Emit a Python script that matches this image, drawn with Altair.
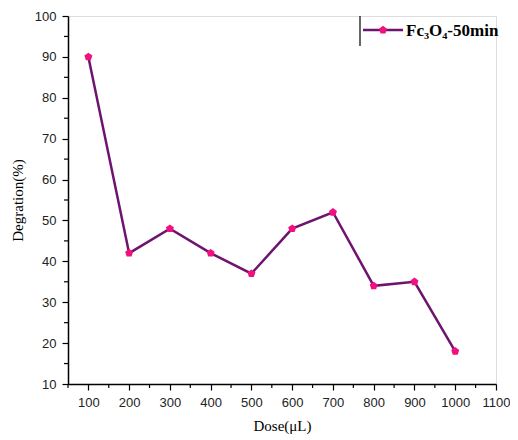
import altair as alt
import pandas as pd

dose = [100, 200, 300, 400, 500, 600, 700, 800, 900, 1000]
degradation = [90, 42, 48, 42, 37, 48, 52, 34, 35, 18]
x_ticks = [100, 200, 300, 400, 500, 600, 700, 800, 900, 1000, 1100]
x_minor = [50, 150, 250, 350, 450, 550, 650, 750, 850, 950, 1050]
y_ticks = [10, 20, 30, 40, 50, 60, 70, 80, 90, 100]
y_minor = [15, 25, 35, 45, 55, 65, 75, 85, 95]
series_name = "Fc₃O₄-50min"

df = pd.DataFrame({"dose": dose, "deg": degradation})

LINE = "#6E1470"
MARK = "#F2107E"
PENT = "M0,-1 L0.951,-0.309 L0.588,0.809 L-0.588,0.809 L-0.951,-0.309 Z"
W = 428
H = 368

xs = alt.Scale(domain=[50, 1100], nice=False, zero=False)
ys = alt.Scale(domain=[10, 100], nice=False, zero=False)

x_main = alt.X("dose:Q", scale=xs, axis=alt.Axis(
    values=x_ticks, title="Dose(μL)", orient="bottom", tickSize=6, format="d",
    labelOverlap=False, labelFlush=False, labelPadding=6,
    titleFont="Liberation Serif", titleFontSize=15, titleFontWeight="normal",
    titlePadding=9, labelFont="Liberation Sans", labelFontSize=13, labelColor="#222",
    domainColor="black", tickColor="black", domainWidth=1.5, tickWidth=1.2, grid=False))
y_main = alt.Y("deg:Q", scale=ys, axis=alt.Axis(
    values=y_ticks, title="Degration(%)", orient="left", tickSize=6, format="d",
    labelOverlap=False, labelFlush=False, labelPadding=6,
    titleFont="Liberation Serif", titleFontSize=15, titleFontWeight="normal",
    titlePadding=9, labelFont="Liberation Sans", labelFontSize=13, labelColor="#222",
    domainColor="black", tickColor="black", domainWidth=1.5, tickWidth=1.2, grid=False))

line = alt.Chart(df).mark_line(color=LINE, strokeWidth=2.5).encode(x=x_main, y=y_main)
pts = alt.Chart(df).mark_point(shape=PENT, filled=True, color=MARK, size=70, opacity=1).encode(
    x=alt.X("dose:Q", scale=xs), y=alt.Y("deg:Q", scale=ys))

# minor ticks, placed through the shared scales
xm = alt.Chart(pd.DataFrame({"dose": x_minor})).mark_rule(color="black", strokeWidth=1.2).encode(
    x=alt.X("dose:Q", scale=xs), y=alt.value(H), y2=alt.value(H + 4))
ym = alt.Chart(pd.DataFrame({"deg": y_minor})).mark_rule(color="black", strokeWidth=1.2).encode(
    y=alt.Y("deg:Q", scale=ys), x=alt.value(0), x2=alt.value(-4))

# legend
leg_df = pd.DataFrame({"name": [series_name]})
leg_border = alt.Chart(leg_df).mark_rule(color="black", strokeWidth=1.2).encode(
    x=alt.value(292), y=alt.value(0), y2=alt.value(30))
leg_line = alt.Chart(leg_df).mark_rule(color=LINE, strokeWidth=2.5).encode(
    x=alt.value(295), x2=alt.value(335), y=alt.value(14))
leg_pt = alt.Chart(leg_df).mark_point(shape=PENT, filled=True, color=MARK, size=70, opacity=1).encode(
    x=alt.value(315), y=alt.value(14))
leg_text = alt.Chart(leg_df).mark_text(
    align="left", baseline="middle", font="Liberation Serif", fontSize=17,
    fontWeight="bold", color="black").encode(
    x=alt.value(338), y=alt.value(15), text="name:N")

chart = alt.layer(line, pts, xm, ym, leg_border, leg_line, leg_pt, leg_text).properties(
    width=W, height=H, autosize="none",
    padding={"left": 60, "top": 8, "right": 14, "bottom": 50},
).configure_view(stroke="black", strokeWidth=1.5, clip=False).configure(background="white")

chart.save("out.html", embed_options={"renderer": "svg", "actions": False})
